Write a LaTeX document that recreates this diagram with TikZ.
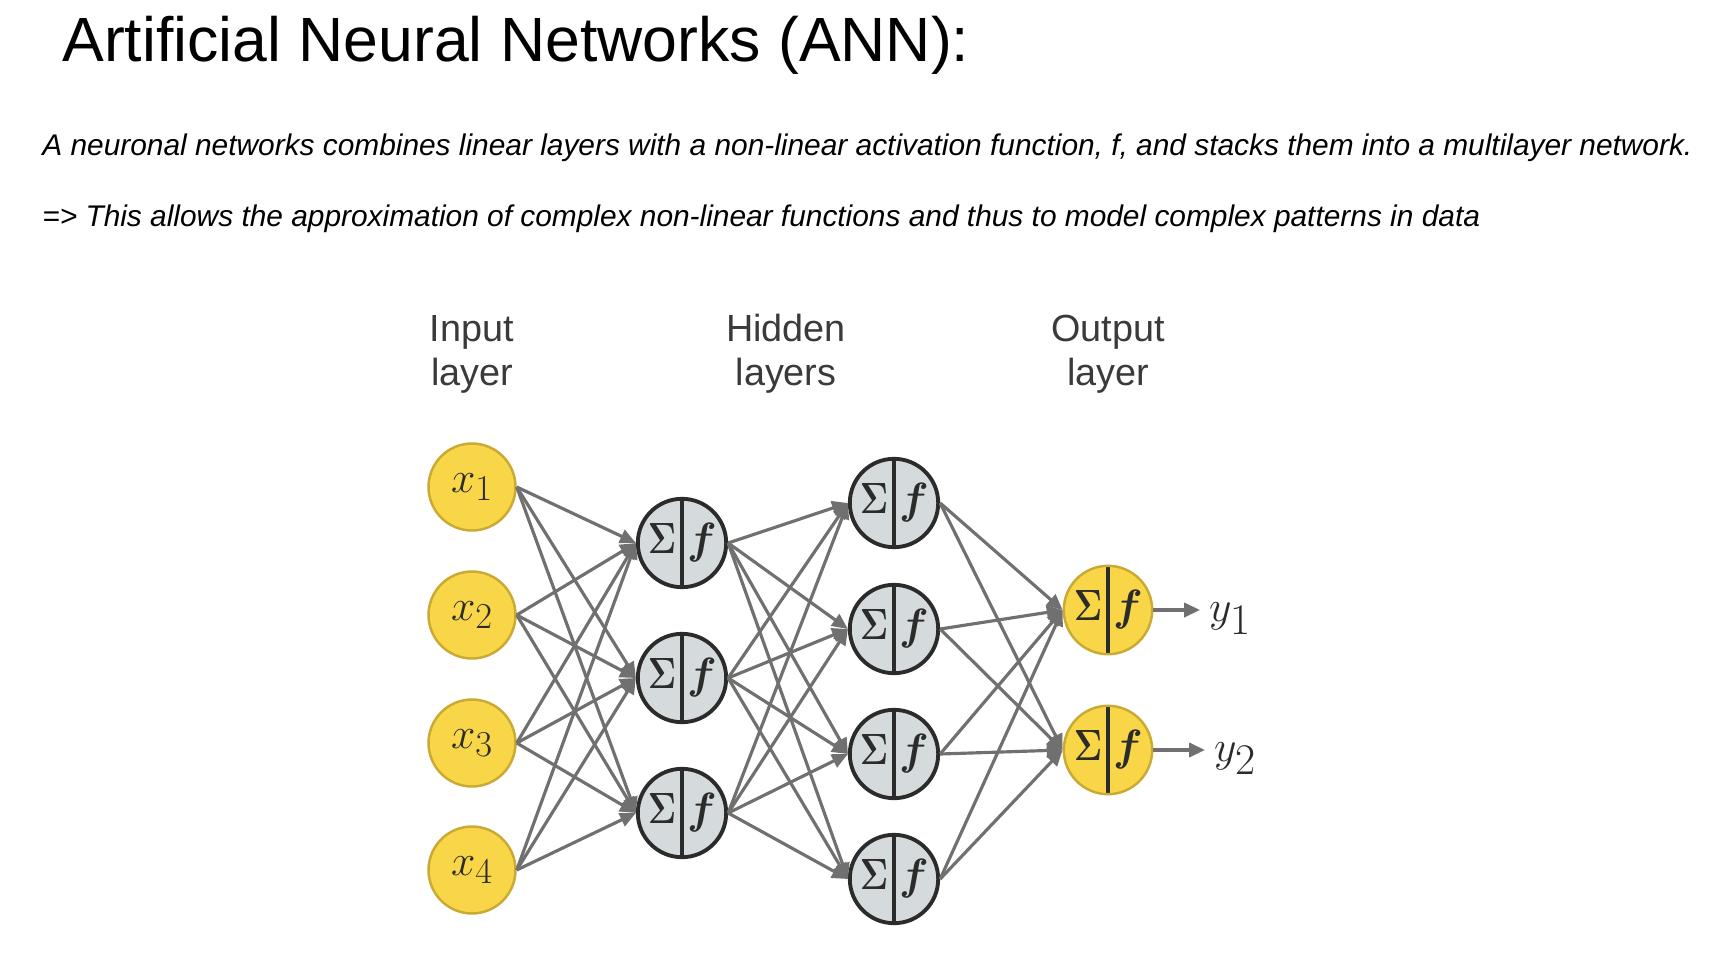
\documentclass[tikz,border=0pt]{standalone}
\usepackage{fontspec}
\setmainfont{Liberation Sans}
\usepackage{xcolor}
\usetikzlibrary{arrows.meta}

\definecolor{neuronyellow}{RGB}{248,214,72}
\definecolor{yellowrim}{RGB}{201,170,52}
\definecolor{neurongray}{RGB}{213,218,221}
\definecolor{grayrim}{RGB}{43,43,43}
\definecolor{wiregray}{RGB}{112,112,112}
\definecolor{labelgray}{RGB}{58,58,58}

\newcommand{\sumf}{\makebox[22.6pt]{\scalebox{0.8}[1]{$\Sigma$}}\makebox[22.6pt]{$f$}}

\tikzset{
  neuron/.style={circle, minimum size=1.74cm, inner sep=0pt, text=grayrim},
  innode/.style={neuron, fill=neuronyellow, draw=yellowrim, line width=1.4pt,
    font=\fontsize{31}{31}\selectfont},
  sumnode/.style={neuron, font=\fontsize{24}{24}\selectfont\boldmath,
    path picture={\draw[line width=2.2pt, grayrim]
      (path picture bounding box.north) -- (path picture bounding box.south);}},
  hidnode/.style={sumnode, fill=neurongray, draw=grayrim, line width=2.2pt},
  outnode/.style={sumnode, fill=neuronyellow, draw=yellowrim, line width=1.4pt},
  wire/.style={draw=wiregray, line width=1.8pt, -{Triangle[length=9pt,width=8pt]}},
  layertitle/.style={align=center, text=labelgray, anchor=base,
    font=\fontsize{21.5}{25}\selectfont},
  outlabel/.style={anchor=base west, inner sep=5pt, text=grayrim,
    font=\fontsize{33}{33}\selectfont}
}

\begin{document}
\begin{tikzpicture}[x=0.02cm, y=-0.02cm]
\def\xin{472}
\def\xha{682}
\def\xhb{894}
\def\xout{1108}

\useasboundingbox (0,0) rectangle (1716,956);

\node[anchor=base west, inner sep=0pt, font=\fontsize{35.6}{35.6}\selectfont] (title) at (62,62)
  {Artificial Neural Networks (ANN):};
\node[anchor=base west, inner sep=0pt, font=\itshape\fontsize{17}{17}\selectfont] (intro) at (42,156)
  {A neuronal networks combines linear layers with a non-linear activation function, f, and stacks them into a multilayer network.};
\node[anchor=base west, inner sep=0pt, font=\itshape\fontsize{17}{17}\selectfont] (claim) at (42,226)
  {=> This allows the approximation of complex non-linear functions and thus to model complex patterns in data};

\node[layertitle] (intitle) at (\xin,385) {Input\\ layer};
\node[layertitle] (hidtitle) at (786,385) {Hidden\\ layers};
\node[layertitle] (outtitle) at (\xout,385) {Output\\ layer};

% neurons
\foreach \i/\y in {1/487,2/615,3/743,4/870}
  \node[innode] (in\i) at (\xin,\y) {$x_\i$};
\foreach \j/\y in {1/543,2/678,3/813}
  \node[hidnode] (hida\j) at (\xha,\y) {\sumf};
\foreach \k/\y in {1/503,2/629,3/754,4/879}
  \node[hidnode] (hidb\k) at (\xhb,\y) {\sumf};
\foreach \m/\y in {1/610,2/750}
  \node[outnode] (out\m) at (\xout,\y) {\sumf};

\node[outlabel] (y1) at (1200,621) {$y_1$};
\node[outlabel] (y2) at (1205,761) {$y_2$};

% connections
\foreach \i in {1,...,4}
  \foreach \j in {1,...,3}
    \draw[wire] (in\i.east) -- (hida\j.west);
\foreach \j in {1,...,3}
  \foreach \k in {1,...,4}
    \draw[wire] (hida\j.east) -- (hidb\k.west);
\foreach \k in {1,...,4}
  \foreach \m in {1,2}
    \draw[wire] (hidb\k.east) -- (out\m.west);

\draw[wire] (out1.east) -- (out1.east -| y1.west);
\draw[wire] (out2.east) -- (out2.east -| y2.west);
\end{tikzpicture}
\end{document}
